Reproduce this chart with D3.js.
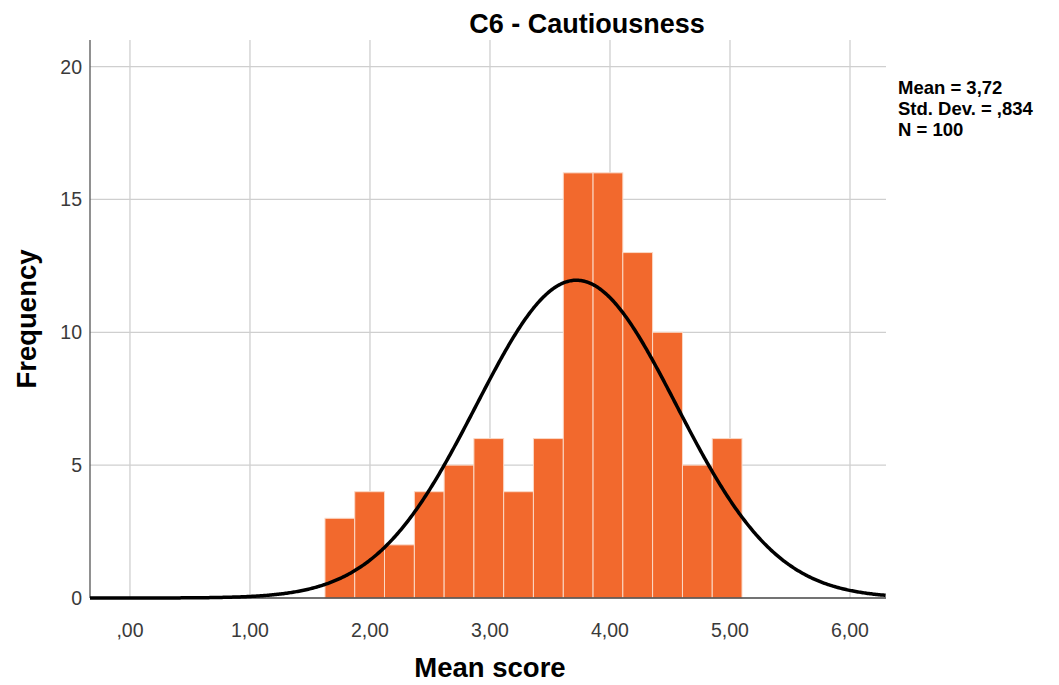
<!DOCTYPE html>
<html>
<head>
<meta charset="utf-8">
<script src="https://cdn.jsdelivr.net/npm/d3@7"></script>
<style>
  body { margin: 0; background: #fff; }
  svg { font-family: "Liberation Sans", Arial, sans-serif; }
  .tick-label { font-size: 19.5px; fill: #3a3a3a; }
  .axis-title { font-size: 27.5px; font-weight: bold; fill: #000; }
  .stats { font-size: 18.5px; font-weight: bold; fill: #000; }
</style>
</head>
<body>
<svg width="1059" height="685"></svg>
<script>
const width = 1059;
const height = 685;
const margin = {top: 40, right: 173, bottom: 87, left: 90};

// histogram bins (edges) and counts
const binEdges = [1.625, 1.873, 2.121, 2.370, 2.618, 2.866, 3.114, 3.362, 3.611, 3.859, 4.107, 4.355, 4.604, 4.852, 5.100];
const counts = [3, 4, 2, 4, 5, 6, 4, 6, 16, 16, 13, 10, 5, 6];

const xTicks = [0, 1, 2, 3, 4, 5, 6];
const xTickLabels = [",00", "1,00", "2,00", "3,00", "4,00", "5,00", "6,00"];
const yTicks = [0, 5, 10, 15, 20];

const mean = 3.72;
const stdDev = 0.834;
const n = 100;
const statLines = ["Mean = 3,72", "Std. Dev. = ,834", "N = 100"];

const svg = d3.select("svg");

let xScale = d3.scaleLinear()
    .domain([-0.333, 6.3])
    .range([margin.left, width - margin.right]);

let yScale = d3.scaleLinear()
    .domain([0, 21])
    .range([height - margin.bottom, margin.top]);

// grid lines
svg.append("g").selectAll("line")
    .data(xTicks).join("line")
    .attr("x1", d => xScale(d)).attr("x2", d => xScale(d))
    .attr("y1", yScale(0)).attr("y2", margin.top)
    .attr("stroke", "#cfcfcf").attr("stroke-width", 1.3);

svg.append("g").selectAll("line")
    .data(yTicks.slice(1)).join("line")
    .attr("x1", margin.left).attr("x2", width - margin.right)
    .attr("y1", d => yScale(d)).attr("y2", d => yScale(d))
    .attr("stroke", "#cfcfcf").attr("stroke-width", 1.3);

// bars
const bins = counts.map((c, i) => ({x0: binEdges[i], x1: binEdges[i + 1], count: c}));

svg.append("g").selectAll("rect")
    .data(bins).join("rect")
    .attr("x", d => xScale(d.x0))
    .attr("width", d => xScale(d.x1) - xScale(d.x0))
    .attr("y", d => yScale(d.count))
    .attr("height", d => yScale(0) - yScale(d.count))
    .attr("fill", "#f2692d")
    .attr("stroke", "#fbd9c6")
    .attr("stroke-width", 1);

// axes lines
svg.append("line")
    .attr("x1", margin.left).attr("x2", margin.left)
    .attr("y1", margin.top).attr("y2", yScale(0))
    .attr("stroke", "#555").attr("stroke-width", 1.3);

svg.append("line")
    .attr("x1", margin.left).attr("x2", width - margin.right)
    .attr("y1", yScale(0)).attr("y2", yScale(0))
    .attr("stroke", "#444").attr("stroke-width", 1.5);

// fitted normal curve, scaled to counts
const binWidth = 0.25;
const curveX = d3.range(-0.333, 6.3001, 0.01);
const normal = x => n * binWidth * Math.exp(-0.5 * Math.pow((x - mean) / stdDev, 2)) / (stdDev * Math.sqrt(2 * Math.PI));

svg.append("path")
    .datum(curveX)
    .attr("fill", "none")
    .attr("stroke", "#000")
    .attr("stroke-width", 3.5)
    .attr("d", d3.line().x(d => xScale(d)).y(d => yScale(normal(d))));

// tick labels
svg.append("g").selectAll("text")
    .data(xTicks).join("text")
    .attr("class", "tick-label")
    .attr("x", d => xScale(d))
    .attr("y", yScale(0) + 39)
    .attr("text-anchor", "middle")
    .text((d, i) => xTickLabels[i]);

svg.append("g").selectAll("text")
    .data(yTicks).join("text")
    .attr("class", "tick-label")
    .attr("x", margin.left - 8)
    .attr("y", d => yScale(d) + 7)
    .attr("text-anchor", "end")
    .text(d => d);

// titles
svg.append("text")
    .attr("x", 587).attr("y", 33)
    .attr("text-anchor", "middle")
    .attr("font-size", "27px").attr("font-weight", "bold")
    .text("C6 - Cautiousness");

svg.append("text")
    .attr("class", "axis-title")
    .attr("x", 490).attr("y", 677)
    .attr("text-anchor", "middle")
    .text("Mean score");

svg.append("text")
    .attr("class", "axis-title")
    .attr("transform", `translate(36, ${yScale(10.5)}) rotate(-90)`)
    .attr("text-anchor", "middle")
    .text("Frequency");

// stats box
svg.append("g").selectAll("text")
    .data(statLines).join("text")
    .attr("class", "stats")
    .attr("x", 898)
    .attr("y", (d, i) => 94 + i * 21)
    .text(d => d);
</script>
</body>
</html>
